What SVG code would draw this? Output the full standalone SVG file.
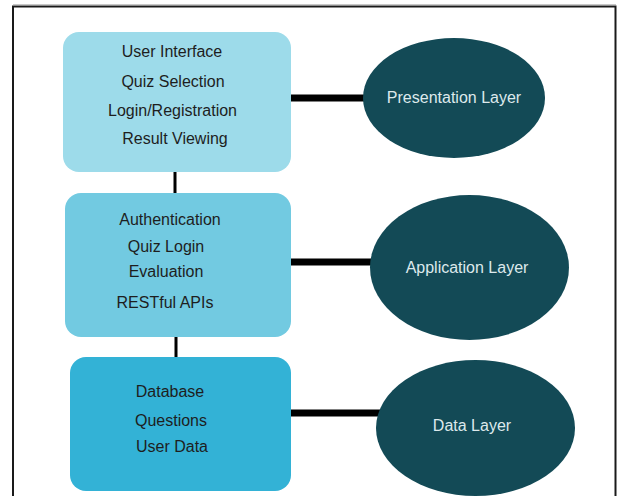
<svg xmlns="http://www.w3.org/2000/svg" width="617" height="496" viewBox="0 0 617 496">
  <style>
    .box-text { font-family: "Liberation Sans", Arial, sans-serif; font-size: 16px; fill: #1e1e1e; text-anchor: middle; }
    .layer-text { font-family: "Liberation Sans", Arial, sans-serif; font-size: 16px; fill: #dde9ec; text-anchor: middle; }
    .layer { fill: #134a56; }
    .link { stroke: #000; stroke-linecap: round; fill: none; }
  </style>
  <rect width="617" height="496" fill="#ffffff"/>
  <!-- outer frame -->
  <line x1="13" y1="4.5" x2="616" y2="4.5" stroke="#c8c8c8" stroke-width="1"/>
  <path d="M13 500 V6.5 H615.5 V500" fill="none" stroke="#1a1a1a" stroke-width="2"/>

  <!-- connectors -->
  <g id="connectors">
    <line class="link" x1="175" y1="172" x2="175" y2="193" stroke-width="3" stroke-linecap="butt"/>
    <line class="link" x1="176" y1="337" x2="176" y2="357" stroke-width="3" stroke-linecap="butt"/>
    <line class="link" x1="289" y1="98" x2="368" y2="98" stroke-width="7"/>
    <line class="link" x1="287" y1="262" x2="380" y2="262" stroke-width="7"/>
    <line class="link" x1="289" y1="413" x2="383" y2="413" stroke-width="7"/>
  </g>

  <!-- presentation tier -->
  <g id="presentation-box">
    <rect x="63" y="32" width="228" height="140" rx="16" fill="#9ddbea"/>
    <text class="box-text" x="172" y="57">User Interface</text>
    <text class="box-text" x="173" y="87">Quiz Selection</text>
    <text class="box-text" x="172.5" y="116">Login/Registration</text>
    <text class="box-text" x="175" y="144">Result Viewing</text>
  </g>

  <!-- application tier -->
  <g id="application-box">
    <rect x="65" y="193" width="226" height="144" rx="16" fill="#72cae1"/>
    <text class="box-text" x="170" y="225">Authentication</text>
    <text class="box-text" x="166" y="252">Quiz Login</text>
    <text class="box-text" x="166" y="277">Evaluation</text>
    <text class="box-text" x="165" y="308">RESTful APIs</text>
  </g>

  <!-- data tier -->
  <g id="data-box">
    <rect x="70" y="357" width="221" height="134" rx="16" fill="#33b2d6"/>
    <text class="box-text" x="170" y="397">Database</text>
    <text class="box-text" x="171" y="426">Questions</text>
    <text class="box-text" x="172" y="452">User Data</text>
  </g>

  <!-- layer labels -->
  <g id="presentation-layer">
    <ellipse class="layer" cx="454" cy="98" rx="91" ry="60"/>
    <text class="layer-text" x="454" y="103">Presentation Layer</text>
  </g>
  <g id="application-layer">
    <ellipse class="layer" cx="469.5" cy="267.5" rx="99.5" ry="72.5"/>
    <text class="layer-text" x="467" y="273">Application Layer</text>
  </g>
  <g id="data-layer">
    <ellipse class="layer" cx="475.5" cy="428" rx="99.5" ry="68"/>
    <text class="layer-text" x="472" y="431">Data Layer</text>
  </g>
</svg>
